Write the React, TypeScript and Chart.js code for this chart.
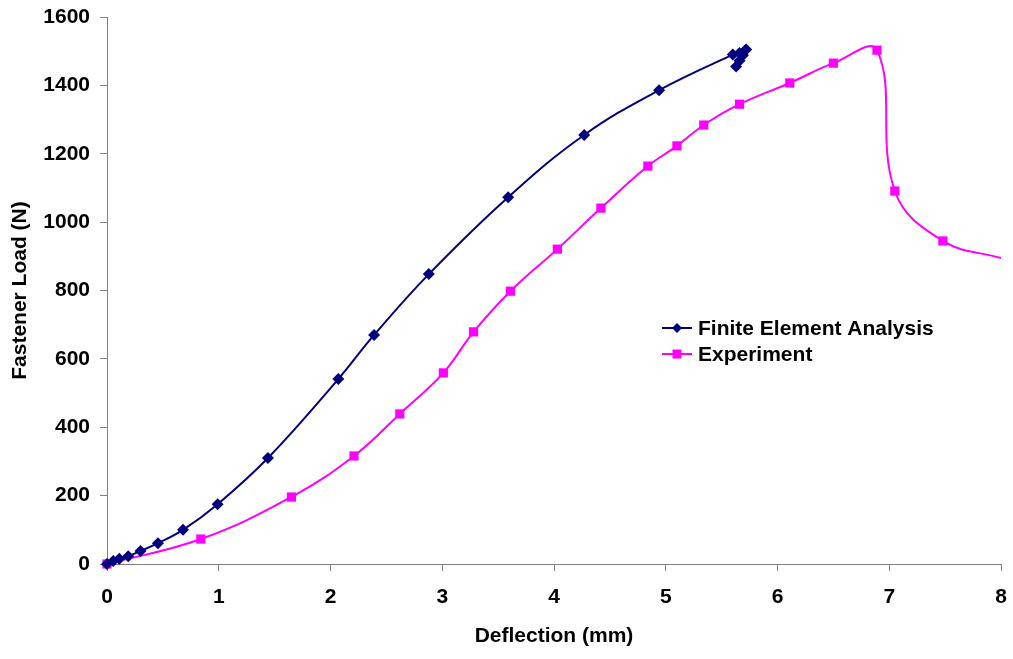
import React, { useEffect, useRef } from "react";
import { Chart, registerables } from "chart.js";

Chart.register(...registerables);

const feaLabel = "Finite Element Analysis";
const feaX = [0, 0.056, 0.11, 0.19, 0.3, 0.456, 0.68, 0.99, 1.44, 2.07, 2.39, 2.88, 3.59, 4.27, 4.94, 5.6, 5.66, 5.71, 5.72, 5.69, 5.66, 5.63];
const feaY = [0, 9, 15, 23, 38, 61, 100, 175, 310, 541, 670, 848, 1073, 1255, 1386, 1490, 1495, 1502, 1505, 1488, 1472, 1455];

const expLabel = "Experiment";
const expX = [0, 0.84, 1.65, 2.21, 2.62, 3.01, 3.28, 3.61, 4.03, 4.42, 4.84, 5.1, 5.34, 5.66, 6.11, 6.5, 6.89, 7.05, 7.48, 8.0];
const expY = [0, 73, 196, 316, 439, 559, 679, 798, 921, 1041, 1164, 1223, 1284, 1345, 1407, 1465, 1503, 1091, 945, 895];

const xTitle = "Deflection (mm)";
const yTitle = "Fastener Load (N)";
const xMin = 0, xMax = 8, xStep = 1;
const yMin = 0, yMax = 1600, yStep = 200;

const FEA_COLOR = "#000080";
const EXP_COLOR = "#FF00FF";
const FONT = "'Liberation Sans', Arial, sans-serif";

export default function App() {
  const ref = useRef<HTMLCanvasElement>(null);

  useEffect(() => {
    document.body.style.margin = "0";
    const canvas = ref.current!;
    const legendPlugin = {
      id: "customLegend",
      afterDraw(chart: any) {
        const ctx = chart.ctx;
        const items = chart.data.datasets;
        ctx.save();
        items.forEach((ds: any, i: number) => {
          const y = 328 + i * 26;
          ctx.strokeStyle = ds.borderColor;
          ctx.lineWidth = 2;
          ctx.beginPath();
          ctx.moveTo(662, y);
          ctx.lineTo(692, y);
          ctx.stroke();
          ctx.fillStyle = ds.pointBackgroundColor;
          ctx.beginPath();
          if (ds.pointStyle === "rectRot") {
            ctx.moveTo(677, y - 5);
            ctx.lineTo(682, y);
            ctx.lineTo(677, y + 5);
            ctx.lineTo(672, y);
            ctx.closePath();
          } else {
            ctx.rect(672.5, y - 4.5, 9, 9);
          }
          ctx.fill();
          ctx.fillStyle = "#000";
          ctx.font = `bold 21px ${FONT}`;
          ctx.textBaseline = "middle";
          ctx.textAlign = "left";
          ctx.fillText(ds.label, 698, y + 1);
        });
        ctx.restore();
      },
    };

    const plain = (v: any) => String(v);

    const chart = new Chart(canvas, {
      type: "scatter",
      data: {
        datasets: [
          {
            label: feaLabel,
            data: feaX.map((x, i) => ({ x, y: feaY[i] })),
            showLine: true,
            borderColor: FEA_COLOR,
            backgroundColor: FEA_COLOR,
            pointBackgroundColor: FEA_COLOR,
            pointBorderColor: FEA_COLOR,
            pointStyle: "rectRot",
            pointRadius: 6,
            pointBorderWidth: 0,
            borderWidth: 2,
            tension: 0.4,
            clip: false,
          } as any,
          {
            label: expLabel,
            data: expX.map((x, i) => ({ x, y: expY[i] })),
            showLine: true,
            borderColor: EXP_COLOR,
            backgroundColor: EXP_COLOR,
            pointBackgroundColor: EXP_COLOR,
            pointBorderColor: EXP_COLOR,
            pointStyle: "rect",
            pointRadius: expX.map((_, i) => (i === expX.length - 1 ? 0 : 6.5)),
            pointBorderWidth: 0,
            borderWidth: 2,
            tension: 0.4,
            clip: false,
          } as any,
        ],
      },
      options: {
        responsive: false,
        animation: false,
        layout: { padding: { top: 17, right: 12, left: 0, bottom: 0 } },
        plugins: { legend: { display: false }, tooltip: { enabled: false } },
        scales: {
          x: {
            type: "linear",
            min: xMin,
            max: xMax,
            afterFit: (s: any) => { s.height = 95; s.paddingLeft = 0; s.paddingRight = 0; },
            ticks: { stepSize: xStep, callback: plain, color: "#000", font: { family: FONT, size: 21, weight: "bold" }, padding: 14 },
            grid: { drawOnChartArea: false, drawTicks: true, tickLength: 7, color: "#808080" },
            border: { display: true, color: "#808080", width: 1 },
            title: { display: true, text: xTitle, color: "#000", font: { family: FONT, size: 21, weight: "bold" }, padding: { top: 0, bottom: 10 } },
          },
          y: {
            type: "linear",
            min: yMin,
            max: yMax,
            afterFit: (s: any) => { s.width = 107; s.paddingTop = 0; s.paddingBottom = 0; },
            ticks: { stepSize: yStep, callback: plain, color: "#000", font: { family: FONT, size: 21, weight: "bold" }, padding: 10 },
            grid: { drawOnChartArea: false, drawTicks: true, tickLength: 7, color: "#808080" },
            border: { display: true, color: "#808080", width: 1 },
            title: { display: true, text: yTitle, color: "#000", font: { family: FONT, size: 21, weight: "bold" }, padding: { top: 8, bottom: 0 } },
          },
        },
      } as any,
      plugins: [legendPlugin],
    });
    return () => chart.destroy();
  }, []);

  return (
    <div style={{ position: "absolute", left: 0, top: 0, width: 1013, height: 659, background: "#fff" }}>
      <canvas ref={ref} width={1013} height={659} style={{ width: 1013, height: 659 }} />
    </div>
  );
}
